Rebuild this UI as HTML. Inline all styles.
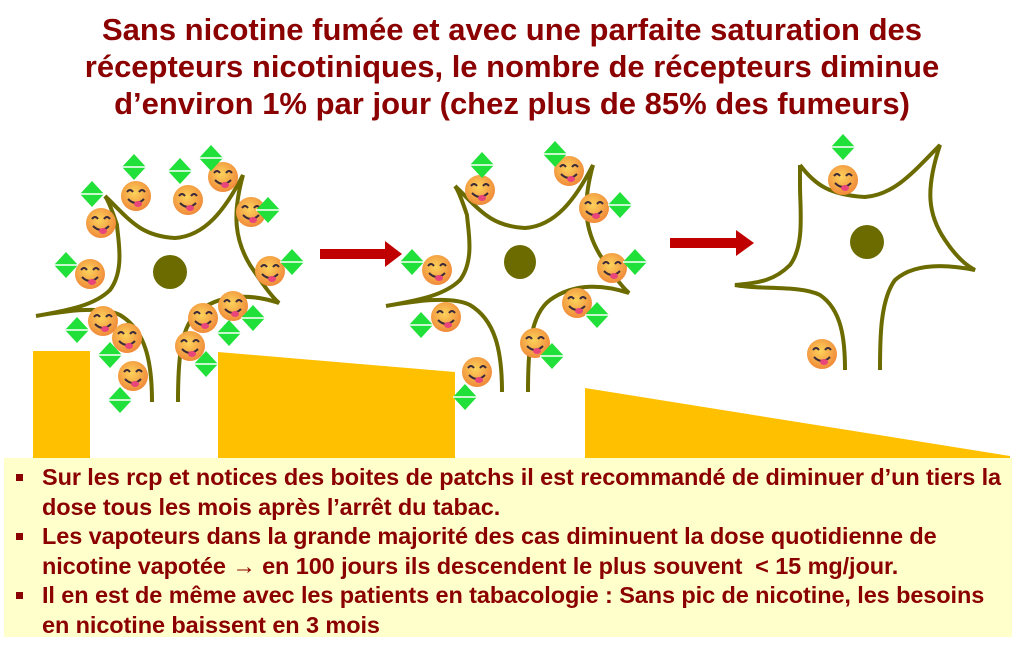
<!DOCTYPE html>
<html><head><meta charset="utf-8"><style>
body{margin:0;width:1024px;height:645px;background:#fff;overflow:hidden;position:relative;font-family:"Liberation Sans",sans-serif;}
.title{position:absolute;left:0;top:11px;width:1024px;text-align:center;color:#8b0000;font-weight:bold;font-size:31px;line-height:37px;}
.box{position:absolute;left:4px;top:458px;width:1008px;height:179px;background:#ffffcc;}
.box ul{margin:0;padding:0;list-style:none;position:absolute;left:0;top:5px;width:1006px;}
.box li{position:relative;padding-left:38px;color:#8b0000;font-weight:bold;font-size:23.5px;line-height:29.5px;letter-spacing:-0.1px;}
.box li:before{content:"";position:absolute;left:12px;top:11px;width:7px;height:7px;background:#8b0000;}
svg{position:absolute;left:0;top:0;}
</style></head><body>
<div class="title">Sans nicotine fumée et avec une parfaite saturation des<br>récepteurs nicotiniques, le nombre de récepteurs diminue<br>d’environ 1% par jour (chez plus de 85% des fumeurs)</div>
<svg width="1024" height="645">
<defs>
<radialGradient id="eg" cx="0.45" cy="0.4" r="0.6"><stop offset="0" stop-color="#fcd25a"/><stop offset="1" stop-color="#f08a3a"/></radialGradient>
<g id="em"><circle r="15" fill="url(#eg)"/><path d="M-9,-4 q3,-4 6,0 M3,-4 q3,-4 6,0" stroke="#3a2a3a" stroke-width="2" fill="none"/><path d="M-8,3 q8,8 16,0" stroke="#3a2a3a" stroke-width="2" fill="none"/><ellipse cx="2" cy="8" rx="4" ry="3" fill="#e8457a"/></g>
<g id="dm"><path d="M0,-13 L12,0 L0,13 L-12,0Z" fill="#22e03a"/><path d="M-12,0 H12" stroke="#fff" stroke-width="1.5"/></g>
<path id="nr" d="M105,196 C130,220 140,236 175,238 C205,236 225,210 243,175 C232,215 235,240 250,265 C260,280 270,295 279,303 C255,295 225,292 200,310 C180,325 178,360 178,402 M152,402 C152,360 145,330 120,315 C100,305 60,312 36,316 C70,310 95,305 110,290 C125,270 118,240 117,225 C112,210 108,200 105,196" fill="none" stroke="#6b6b00" stroke-width="4"/>
</defs>
<rect x="33" y="351" width="57" height="110" fill="#ffc000"/>
<path d="M218,352 L455,372 L455,460 L218,460Z" fill="#ffc000"/>
<path d="M585,388 L1010,456 L1010,460 L585,460Z" fill="#ffc000"/>
<use href="#nr"/>
<ellipse cx="170" cy="272" rx="17" ry="17" fill="#6b6b00"/>
<use href="#nr" transform="translate(350,-10)"/>
<ellipse cx="520" cy="262" rx="16" ry="17" fill="#6b6b00"/>
<path d="M800,165 C815,185 830,195 865,197 C895,195 915,170 940,145 C925,190 928,215 945,240 C955,255 965,265 975,270 C950,265 915,262 895,280 C880,300 880,340 880,370 M845,370 C845,340 842,310 820,295 C800,285 760,290 735,285 C760,283 775,280 790,265 C805,245 800,210 800,185 L800,165" fill="none" stroke="#6b6b00" stroke-width="4"/>
<ellipse cx="867" cy="242" rx="17" ry="17" fill="#6b6b00"/>
<path d="M320,249 H385 V241 L402,254 L385,267 V259 H320Z" fill="#c00000"/>
<path d="M670,238 H736 V230 L754,243 L736,256 V248 H670Z" fill="#c00000"/>
<g>
<use href="#em" x="136" y="196"/><use href="#em" x="188" y="200"/><use href="#em" x="101" y="223"/><use href="#em" x="223" y="177"/><use href="#em" x="251" y="212"/><use href="#em" x="90" y="274"/><use href="#em" x="270" y="271"/><use href="#em" x="103" y="321"/><use href="#em" x="127" y="338"/><use href="#em" x="133" y="376"/><use href="#em" x="203" y="318"/><use href="#em" x="233" y="306"/><use href="#em" x="190" y="346"/>
<use href="#dm" x="92" y="194"/><use href="#dm" x="134" y="167"/><use href="#dm" x="180" y="171"/><use href="#dm" x="211" y="158"/><use href="#dm" x="268" y="210"/><use href="#dm" x="66" y="265"/><use href="#dm" x="292" y="262"/><use href="#dm" x="77" y="330"/><use href="#dm" x="110" y="355"/><use href="#dm" x="120" y="400"/><use href="#dm" x="253" y="318"/><use href="#dm" x="229" y="333"/><use href="#dm" x="206" y="364"/>
<use href="#em" x="480" y="190"/><use href="#em" x="569" y="171"/><use href="#em" x="594" y="208"/><use href="#em" x="437" y="270"/><use href="#em" x="612" y="268"/><use href="#em" x="446" y="317"/><use href="#em" x="577" y="303"/><use href="#em" x="535" y="343"/><use href="#em" x="477" y="372"/>
<use href="#dm" x="482" y="165"/><use href="#dm" x="555" y="154"/><use href="#dm" x="620" y="205"/><use href="#dm" x="412" y="262"/><use href="#dm" x="635" y="262"/><use href="#dm" x="421" y="325"/><use href="#dm" x="597" y="315"/><use href="#dm" x="552" y="356"/><use href="#dm" x="465" y="397"/>
<use href="#em" x="843" y="180"/><use href="#em" x="822" y="354"/><use href="#dm" x="843" y="147"/>
</g>
</svg>
<div class="box"><ul>
<li>Sur les rcp et notices des boites de patchs il est recommandé de diminuer d’un tiers la dose tous les mois après l’arrêt du tabac.</li>
<li>Les vapoteurs dans la grande majorité des cas diminuent la dose quotidienne de nicotine vapotée → en 100 jours ils descendent le plus souvent &nbsp;&lt; 15 mg/jour.</li>
<li>Il en est de même avec les patients en tabacologie : Sans pic de nicotine, les besoins en nicotine baissent en 3 mois</li>
</ul></div>
</body></html>
